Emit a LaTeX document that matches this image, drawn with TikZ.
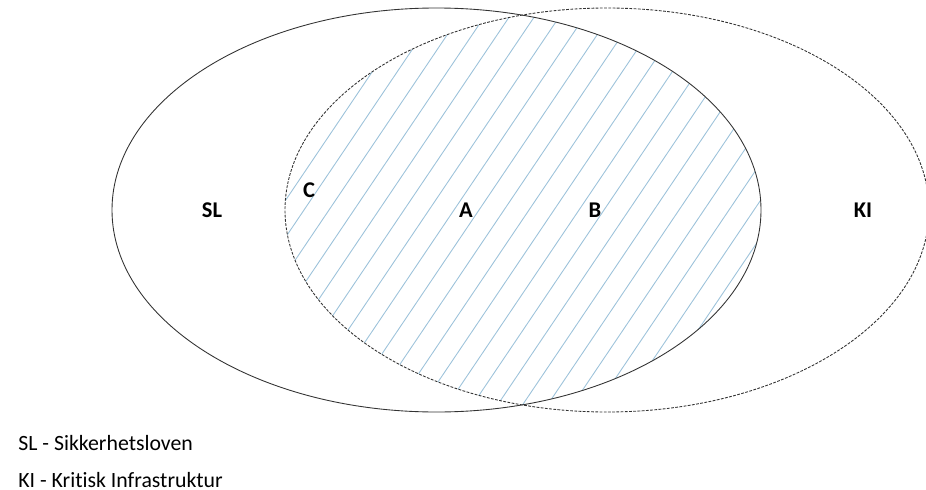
\documentclass[tikz,border=0pt]{standalone}
\usepackage{fontspec}
\setmainfont{Carlito}[Ligatures=NoCommon]
\definecolor{hatchblue}{HTML}{9CC2DA}
\definecolor{rimgray}{HTML}{333333}

\begin{document}
\begin{tikzpicture}[x=0.02cm, y=-0.02cm,
  rim/.style={draw=rimgray, line width=0.5pt},
  rimdash/.style={rim, dash pattern=on 1.6pt off 0.8pt},
  hatch/.style={draw=hatchblue, line width=0.5pt},
  setlabel/.style={font=\fontsize{12.8}{15}\selectfont\bfseries, anchor=base, inner sep=0pt},
  legend/.style={font=\fontsize{12.4}{15}\selectfont, anchor=base west, inner sep=0pt}
]
\useasboundingbox (0,0) rectangle (926,490);
\coordinate (sl) at (436.5,210);
\coordinate (ki) at (607,210);
\begin{scope}
  \clip (sl) ellipse [x radius=324.5, y radius=202];
  \clip (ki) ellipse [x radius=322, y radius=202];
  \foreach \x in {0,...,22}
    \draw[hatch] (229+\x*25,210) ++(124:320) -- ++(-56:640);
\end{scope}
\draw[rim] (sl) ellipse [x radius=324.5, y radius=202];
\draw[rimdash] (ki) ellipse [x radius=322, y radius=202];
\node[setlabel] (slname) at (212,217) {SL};
\node[setlabel] (cname) at (309,197) {C};
\node[setlabel] (aname) at (466,217) {A};
\node[setlabel] (bname) at (595,217) {B};
\node[setlabel] (kiname) at (863,217) {KI};
\node[legend] (slkey) at (18,450) {SL - Sikkerhetsloven};
\node[legend] (kikey) at (18,487) {KI - Kritisk Infrastruktur};
\end{tikzpicture}
\end{document}
